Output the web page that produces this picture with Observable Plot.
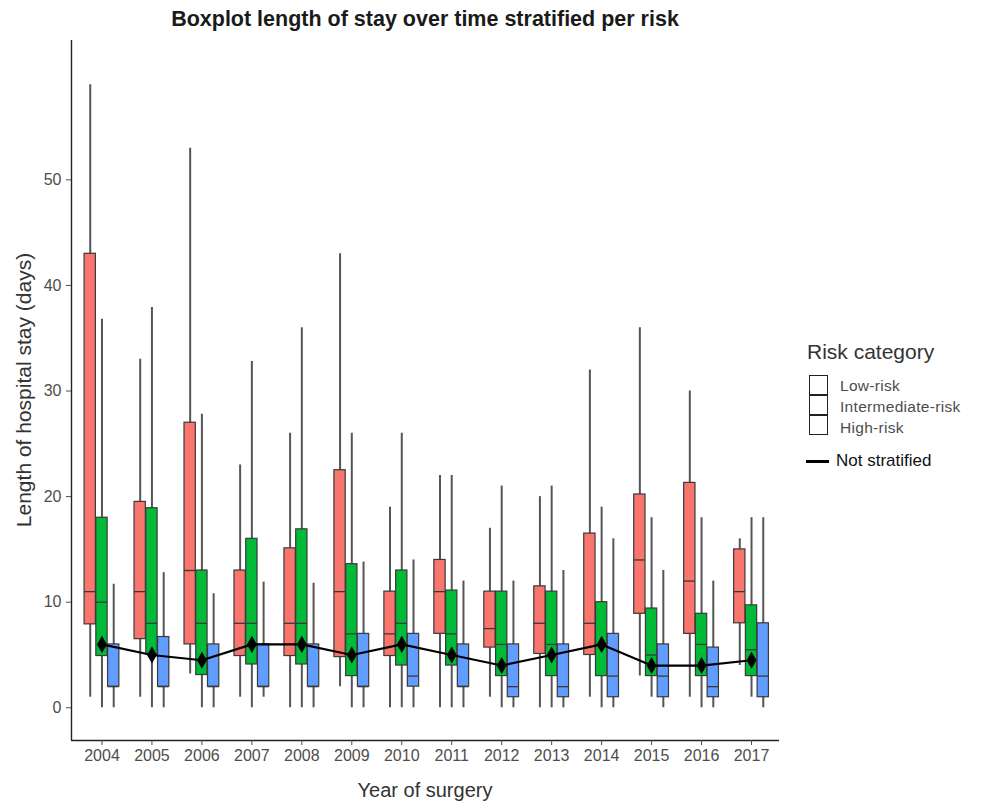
<!DOCTYPE html>
<html><head><meta charset="utf-8">
<script src="https://cdn.jsdelivr.net/npm/d3@7"></script>
<script src="https://cdn.jsdelivr.net/npm/@observablehq/plot@0.6"></script>
<style>
body{margin:0;background:#fff;font-family:"Liberation Sans",Arial,sans-serif;}
#wrap{position:relative;width:989px;height:806px;overflow:hidden;}
.t{position:absolute;white-space:nowrap;}
#title{left:71px;width:708px;top:7px;text-align:center;font-weight:bold;font-size:21.5px;color:#1a1a1a;}
#ylab{left:24px;top:390px;font-size:21px;color:#333;transform:translate(-50%,-50%) rotate(-90deg);}
#xlab{left:425px;top:790px;font-size:20px;color:#333;transform:translate(-50%,-50%);}
#legtitle{left:807px;top:340px;font-size:21px;color:#333;}
.key{position:absolute;left:809px;width:19px;height:20px;border:1.3px solid #222;box-sizing:border-box;background:#fff;}
.klab{font-size:15.5px;color:#4d4d4d;left:840px;transform:translateY(-50%);letter-spacing:0.3px;}
#nsline{position:absolute;left:806px;top:460px;width:23px;height:3px;background:#000;}
#nslab{left:836px;top:461px;font-size:17px;color:#111;transform:translateY(-50%);}
</style></head>
<body>
<div id="wrap">
  <div id="chart"></div>
  <div class="t" id="title">Boxplot length of stay over time stratified per risk</div>
  <div class="t" id="ylab">Length of hospital stay (days)</div>
  <div class="t" id="xlab">Year of surgery</div>
  <div class="t" id="legtitle">Risk category</div>
  <div class="key" style="top:375px"></div>
  <div class="key" style="top:395px"></div>
  <div class="key" style="top:415px"></div>
  <div class="t klab" style="top:386px">Low-risk</div>
  <div class="t klab" style="top:407px">Intermediate-risk</div>
  <div class="t klab" style="top:428px">High-risk</div>
  <div id="nsline"></div>
  <div class="t" id="nslab">Not stratified</div>
</div>
<script>
const years = [2004,2005,2006,2007,2008,2009,2010,2011,2012,2013,2014,2015,2016,2017];
const risks = ["Low-risk","Intermediate-risk","High-risk"];
const riskColors = ["#F8766D","#00BA38","#619CFF"];
const yTicks = [0,10,20,30,40,50];

const lowMin = [1,1,3.2,1,0,2,0,0,1,0,1,3,1,4];
const lowQ1  = [7.9,6.5,6,4.9,4.9,4.8,4.9,7,5.7,5.1,5,8.9,7,8];
const lowMed = [11,11,13,8,8,11,7,11,7.5,8,8,14,12,11];
const lowQ3  = [43,19.5,27,13,15.1,22.5,11,14,11,11.5,16.5,20.2,21.3,15];
const lowMax = [59,33,53,23,26,43,19,22,17,20,32,36,30,16];

const intMin = [0,0,0,0,0,0,0,0,0,0,0,1,0,1];
const intQ1  = [4.9,5,3.1,4.1,4.1,3,4,4,3,3,3,3,3,3];
const intMed = [10,8,8,8,8,7,8,7,6,6,6,5,6,5.5];
const intQ3  = [18,18.9,13,16,16.9,13.6,13,11.1,11,11,10,9.4,8.9,9.7];
const intMax = [36.8,37.9,27.8,32.8,36,26,26,22,21,21,19,18,18,18];

const highMin = [0,0,0,1,0,0,0,0,0,0,0,0,0,0];
const highQ1  = [2,2,2,2,2,2,2,2,1,1,1,1,1,1];
const highMed = [2,2,2,2,2,2,3,2,2,2,3,3,2,3];
const highQ3  = [6,6.7,6,6,6,7,7,6,6,6,7,6,5.7,8];
const highMax = [11.7,12.8,10.8,11.9,11.8,13.8,14,12,12,13,16,13,12,18];

const notStratified = [6,5,4.5,6,6,5,6,5,4,5,6,4,4,4.5];

const stats = {
  "Low-risk": [lowMin,lowQ1,lowMed,lowQ3,lowMax],
  "Intermediate-risk": [intMin,intQ1,intMed,intQ3,intMax],
  "High-risk": [highMin,highQ1,highMed,highQ3,highMax]
};
const offset = {"Low-risk": -0.235, "Intermediate-risk": 0, "High-risk": 0.235};
const hw = 0.113;

const rows = [];
for (const r of risks) {
  const [mn,q1,md,q3,mx] = stats[r];
  years.forEach((y,i) => rows.push({year:y, risk:r, xc:y+offset[r], min:mn[i], q1:q1[i], med:md[i], q3:q3[i], max:mx[i]}));
}
const overall = years.map((y,i) => ({year:y, v:notStratified[i]}));

const xDomain = [2003.39, 2017.56];
const yDomain = [-3.1, 63.2];

const chart = Plot.plot({
  width: 989, height: 806,
  marginLeft: 71, marginRight: 210, marginTop: 40, marginBottom: 66,
  style: {fontFamily: "'Liberation Sans', Arial, sans-serif", fontSize: "16px", background: "#fff"},
  x: {domain: xDomain, label: null},
  y: {domain: yDomain, label: null},
  color: {domain: risks, range: riskColors},
  marks: [
    Plot.ruleX(rows, {x: "xc", y1: "min", y2: "max", stroke: "#555", strokeWidth: 2}),
    Plot.rect(rows, {x1: d => d.xc - hw, x2: d => d.xc + hw, y1: "q1", y2: "q3", fill: "risk", stroke: "#3a3a3a", strokeWidth: 1.2}),
    Plot.ruleY(rows, {x1: d => d.xc - hw, x2: d => d.xc + hw, y: "med", stroke: "#3a3a3a", strokeWidth: 1.3}),
    Plot.line(overall, {x: "year", y: "v", stroke: "#000", strokeWidth: 2.2}),
    Plot.dot(overall, {x: "year", y: "v", symbol: "diamond", r: 5.2, fill: "#000", stroke: "none"}),
    Plot.ruleX([xDomain[0]], {stroke: "#222", strokeWidth: 1.4}),
    Plot.ruleY([yDomain[0]], {stroke: "#222", strokeWidth: 1.4}),
    Plot.axisX({ticks: years, tickFormat: d => String(d), tickSize: 5, tickPadding: 4, fontSize: 16, color: "#4d4d4d", label: null}),
    Plot.axisY({ticks: yTicks, tickSize: 5, tickPadding: 5, fontSize: 16, color: "#4d4d4d", label: null})
  ]
});
document.getElementById("chart").appendChild(chart);
</script>
</body></html>
